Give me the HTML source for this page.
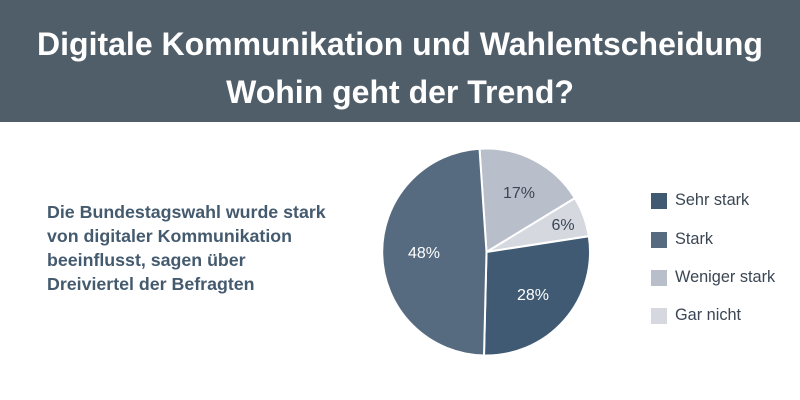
<!DOCTYPE html>
<html><head><meta charset="utf-8"><style>
body{margin:0;width:800px;height:400px;background:#fff;overflow:hidden;font-family:"Liberation Sans",sans-serif;position:relative}
.hdr{position:absolute;left:0;top:0;width:800px;height:122px;background:#505e6a;color:#fff;font-weight:bold;font-size:32px;text-align:center}
.hdr div{position:absolute;width:100%}
.lt{position:absolute;left:47px;top:200px;font-size:17.8px;font-weight:bold;line-height:24px;color:#445a6e}
.lg{position:absolute;left:651px;font-size:16.3px;color:#3a4654}
.lg span{display:inline-block;width:16px;height:16px;vertical-align:middle;margin-right:8px}
</style></head><body>
<div class="hdr"><div style="top:26px">Digitale Kommunikation und Wahlentscheidung</div><div style="top:74px">Wohin geht der Trend?</div></div>
<div class="lt">Die Bundestagswahl wurde stark<br>von digitaler Kommunikation<br>beeinflusst, sagen über<br>Dreiviertel der Befragten</div>
<svg width="800" height="400" style="position:absolute;left:0;top:0">
<g stroke="#fff" stroke-width="2" transform="translate(486.5,252)">
<path d="M0,0 L-7,-103.3 A103.5,103.5 0 0 1 88.4,-53.9Z" fill="#b9bfca"/>
<path d="M0,0 L88.4,-53.9 A103.5,103.5 0 0 1 102.3,-15.8Z" fill="#d5d8df"/>
<path d="M0,0 L102.3,-15.8 A103.5,103.5 0 0 1 -2.5,103.5Z" fill="#3f5a72"/>
<path d="M0,0 L-2.5,103.5 A103.5,103.5 0 0 1 -7,-103.3Z" fill="#566b80"/>
</g>
<g font-family="Liberation Sans" font-size="16" text-anchor="middle">
<text x="519" y="198" fill="#3a4654">17%</text>
<text x="563" y="230" fill="#3a4654">6%</text>
<text x="533" y="300" fill="#fff">28%</text>
<text x="424" y="258" fill="#fff">48%</text>
</g>
</svg>
<div class="lg" style="top:191px"><span style="background:#3f5a72"></span>Sehr stark</div>
<div class="lg" style="top:230px"><span style="background:#566b80"></span>Stark</div>
<div class="lg" style="top:268px"><span style="background:#b9bfca"></span>Weniger stark</div>
<div class="lg" style="top:306px"><span style="background:#d5d8df"></span>Gar nicht</div>
</body></html>
